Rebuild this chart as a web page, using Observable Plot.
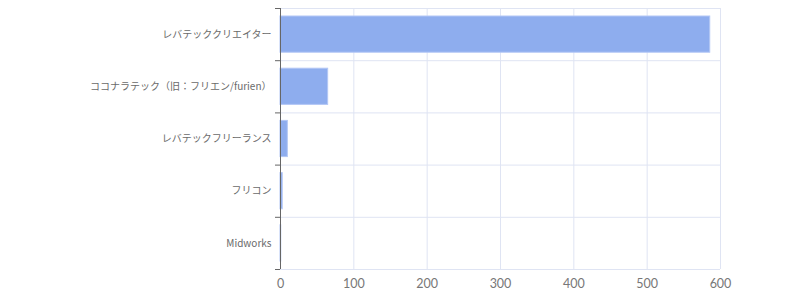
<!DOCTYPE html>
<html><head><meta charset="utf-8">
<script src="https://cdn.jsdelivr.net/npm/d3@7"></script>
<script src="https://cdn.jsdelivr.net/npm/@observablehq/plot@0.6"></script>
<style>body{margin:0;background:#fff;font-family:"Noto Sans CJK JP","Noto Sans",sans-serif;}</style>
</head><body><div id="chart"></div>
<script>
const categories = ["レバテッククリエイター","ココナラテック（旧：フリエン/furien）","レバテックフリーランス","フリコン","Midworks"];
const values = [586, 65, 10, 3, 1];
const xTicks = [0, 100, 200, 300, 400, 500, 600];

const data = categories.map((c, i) => ({name: c, value: values[i], i0: i, i1: i + 1, mid: i + 0.5}));
const boundaries = d3.range(categories.length + 1);

const chart = Plot.plot({
  width: 800, height: 300,
  marginLeft: 280, marginRight: 80, marginTop: 8, marginBottom: 31,
  style: {fontFamily: '"Noto Sans CJK JP","Noto Sans",sans-serif', background: "#fff"},
  x: {domain: [0, 600], ticks: xTicks},
  y: {domain: [0, categories.length], reverse: true, axis: null},
  marks: [
    Plot.gridX(xTicks, {stroke: "#dfe4f3", strokeOpacity: 1}),
    Plot.ruleY(boundaries, {stroke: "#dfe4f3", strokeOpacity: 1}),
    Plot.rectX(data, {x1: 0, x2: "value", y1: "i0", y2: "i1", insetTop: 8, insetBottom: 8,
      fill: "#8eadee", stroke: "#b3c7f5", strokeWidth: 1}),
    Plot.axisX({ticks: xTicks, tickSize: 0, tickPadding: 10, fontSize: 12.5, fontFamily: "Lato, sans-serif", color: "#777", label: null}),
    Plot.axisY({ticks: boundaries, tickFormat: () => "", tickSize: 5, stroke: "#666", label: null}),
    Plot.ruleX([0], {stroke: "#666"}),
    Plot.text(data, {x: 0, y: "mid", text: "name", textAnchor: "end", dx: -9, fontSize: 10, fill: "#6a6a6a"})
  ]
});
document.getElementById("chart").appendChild(chart);
</script></body></html>
